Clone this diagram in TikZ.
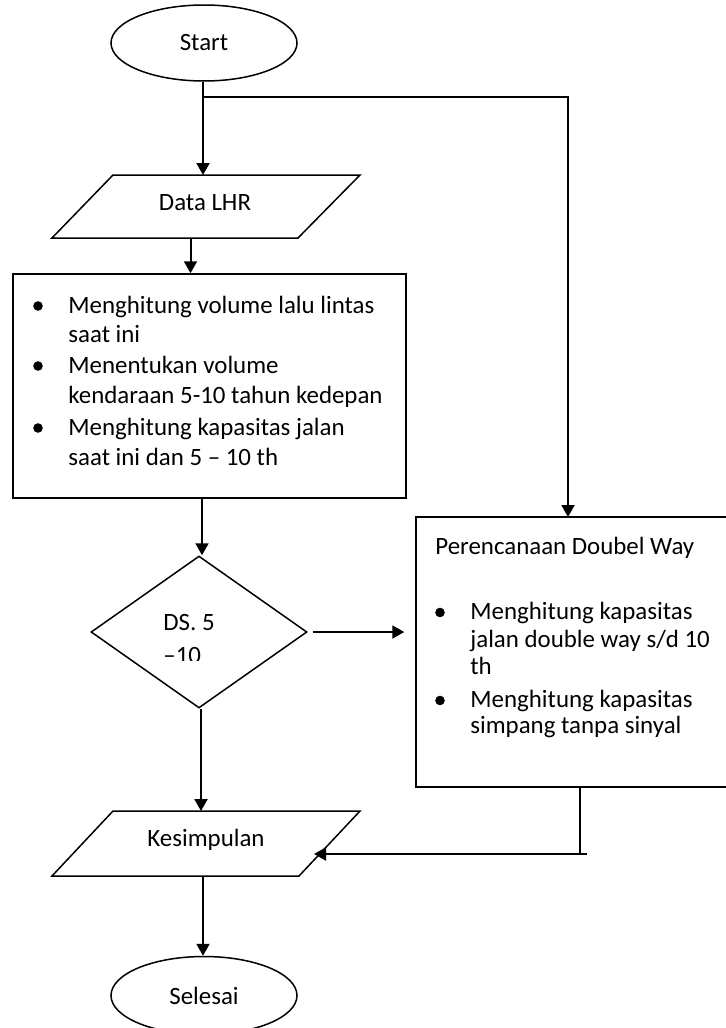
\documentclass[tikz,border=0pt]{standalone}
\usepackage{fontspec}
\setmainfont{Carlito}
\usetikzlibrary{shapes.geometric,arrows.meta,calc}
\begin{document}
\begin{tikzpicture}[x=0.5pt,y=-0.5pt,
  font=\fontsize{12.45}{15}\selectfont,
  shapeline/.style={draw=black,line width=0.75pt},
  term/.style={shapeline,ellipse,inner sep=0pt,minimum width=93pt,minimum height=38pt},
  procbox/.style={shapeline,rectangle,inner sep=0pt},
  decision/.style={shapeline,diamond,inner sep=0pt,minimum width=108pt,minimum height=76pt},
  conn/.style={line width=1pt},
  arr/.style={conn,-{Triangle[width=6.5pt,length=6pt]}},
  txt/.style={anchor=base west,inner sep=0pt},
  ctxt/.style={anchor=base,inner sep=0pt},
  bul/.style={fill=black}]
\useasboundingbox (0,0) rectangle (726,1028);
\clip (0,0) rectangle (726,1028);

% Start
\node[term] (start) at (204,43) {Start};

% Data LHR (parallelogram)
\draw[shapeline] (52,238) -- (113,175) -- (360,175) -- (298,238) -- cycle;
\node[ctxt] (data) at (205,210) {Data LHR};
\coordinate (dataT) at (203,175);
\coordinate (dataB) at (190.5,238);

% Box 1
\node[procbox,minimum width=196.5pt,minimum height=112pt] (box1) at (209.5,386) {};
\foreach \yy in {313,373,435} {\fill[bul] (38,\yy-7) circle (2.4pt);}
\node[txt] (l1) at (68,313) {Menghitung volume lalu lintas};
\node[txt] (l2) at (68,342) {saat ini};
\node[txt] (l3) at (68,373) {Menentukan volume};
\node[txt] (l4) at (68,403) {kendaraan 5-10 tahun kedepan};
\node[txt] (l5) at (68,435) {Menghitung kapasitas jalan};
\node[txt] (l6) at (68,465) {saat ini dan 5 -- 10 th};

% Decision
\node[decision] (dia) at (199,632) {};
\node[txt] (d1) at (163,630) {DS. 5};
\begin{scope}
  \clip (150,600) rectangle (260,660);
  \node[txt] (d2) at (163,663) {--10};
\end{scope}

% Right box
\node[procbox,minimum width=162pt,minimum height=135pt] (rb) at (578,652) {};
\node[txt] (r0) at (435,554) {Perencanaan Doubel Way};
\foreach \yy in {619,707} {\fill[bul] (440,\yy-6.5) circle (2.4pt);}
\node[txt] (r1) at (470,619) {Menghitung kapasitas};
\node[txt] (r2) at (470,647) {jalan double way s/d 10};
\node[txt] (r3) at (470,674) {th};
\node[txt] (r4) at (470,707) {Menghitung kapasitas};
\node[txt] (r5) at (470,733) {simpang tanpa sinyal};

% Kesimpulan (parallelogram)
\draw[shapeline] (52,876) -- (113,811) -- (360,811) -- (299,876) -- cycle;
\node[ctxt] (kes) at (206,846) {Kesimpulan};
\coordinate (kesT) at (201,811);
\coordinate (kesB) at (203,876);
\coordinate (kesR) at (314,854);

% Selesai
\node[term,minimum height=39pt] (end) at (204,995.5) {Selesai};

% Connectors
\coordinate (split) at (203,97);
\coordinate (rbT) at (568,517);
\coordinate (rbB) at (580,787);
\coordinate (joinR) at (587,854);

\draw[arr] (start.south -| dataT) -- (dataT);
\draw[arr] (split) -| (rbT);
\draw[arr] (dataB) -- (dataB |- box1.north);
\draw[arr] (box1.south -| 202,0) -- (dia.north -| 202,0);
\draw[arr] ($(dia.east)+(5,0)$) -- ($(rb.west |- dia.east)+(-11,0)$);
\draw[arr] (dia.south -| kesT) -- (kesT);
\draw[conn] (rbB) -- (rbB |- joinR);
\draw[arr] (joinR) -- (kesR);
\draw[arr] (kesB) -- (end.north -| kesB);
\end{tikzpicture}
\end{document}
